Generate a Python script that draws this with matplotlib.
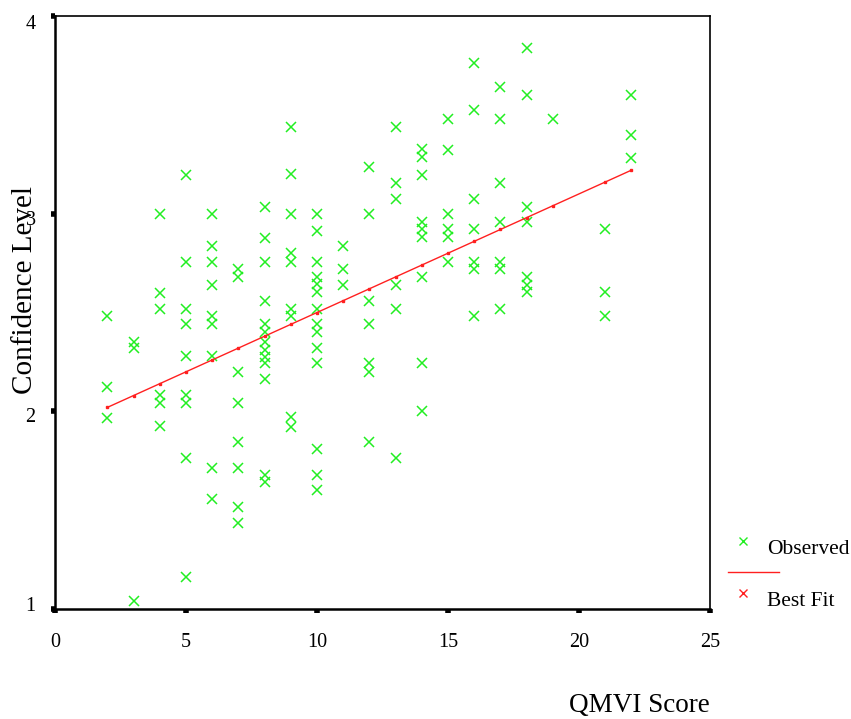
import numpy as np
import matplotlib.pyplot as plt
from matplotlib.lines import Line2D
from matplotlib.transforms import ScaledTranslation

plt.rcParams['font.family'] = ['Liberation Serif', 'DejaVu Serif']

# observed confidence level per QMVI score
obs = {
    2: [2.48, 2.125, 1.965],
    3: [2.353, 2.32, 1.04],
    4: [3.0, 2.597, 2.518, 2.083, 2.04, 1.926],
    5: [3.196, 2.757, 2.518, 2.44, 2.282, 2.083, 2.04, 1.766, 1.164],
    6: [3.0, 2.838, 2.757, 2.64, 2.484, 2.44, 2.282, 1.715, 1.557],
    7: [2.719, 2.681, 2.20, 2.04, 1.844, 1.715, 1.515, 1.437],
    8: [3.035, 2.877, 2.757, 2.558, 2.44, 2.403, 2.353, 2.31, 2.277, 2.243,
        2.164, 1.678, 1.64],
    9: [3.44, 3.2, 3.0, 2.80, 2.757, 2.52, 2.48, 1.973, 1.92],
    10: [3.0, 2.914, 2.757, 2.681, 2.644, 2.606, 2.518, 2.44, 2.403, 2.322,
         2.243, 1.81, 1.678, 1.60],
    11: [2.838, 2.719, 2.64],
    12: [3.234, 3.0, 2.558, 2.44, 2.243, 2.20, 1.844],
    13: [3.44, 3.154, 3.074, 2.64, 2.518, 1.766],
    14: [3.327, 3.288, 3.196, 2.96, 2.92, 2.88, 2.681, 2.243, 2.0],
    15: [3.48, 3.322, 3.0, 2.92, 2.88, 2.757],
    16: [3.76, 3.525, 3.074, 2.92, 2.757, 2.719, 2.484],
    17: [3.64, 3.48, 3.154, 2.957, 2.757, 2.719, 2.518],
    18: [3.84, 3.60, 3.035, 2.957, 2.681, 2.64, 2.602],
    19: [3.48],
    21: [2.92, 2.602, 2.484],
    22: [3.60, 3.40, 3.283],
}

# best fit line (linear)
fit_x = [2, 3, 4, 5, 6, 7, 8, 9, 10, 11, 12, 13, 14, 15, 16, 17, 18, 19, 21, 22]
fit_y = [2.02, 2.08, 2.14, 2.20, 2.26, 2.32, 2.38, 2.44, 2.50, 2.56, 2.62,
         2.68, 2.74, 2.80, 2.86, 2.92, 2.98, 3.04, 3.16, 3.22]

obs_x = [k for k, v in obs.items() for _ in v]
obs_y = [y for v in obs.values() for y in v]

green = '#22ee22'
red = '#ff2020'

fig = plt.figure(figsize=(8.51, 7.19), dpi=100)
ax = fig.add_axes([55/851, 1-609/719, 655/851, 593/719])

ax.plot(obs_x, obs_y, 'x', color=green, ms=7, mew=1.1, ls='none')
ax.plot(fit_x, fit_y, '-', color=red, lw=1.0)
ax.plot(fit_x, fit_y, 's', color=red, ms=2, ls='none')

ax.set_xlim(0, 25)
ax.set_ylim(1, 4)
ax.set_xticks([0, 5, 10, 15, 20, 25])
ax.set_yticks([1, 2, 3, 4])
for s in ax.spines.values():
    s.set_color('black')
    s.set_linewidth(1.2)
ax.spines['left'].set_linewidth(1.8)
ax.spines['bottom'].set_linewidth(1.8)
ax.tick_params(direction='out', length=3, width=4, labelsize=14.5)
ax.tick_params(axis='x', pad=14)
ax.tick_params(axis='y', pad=11)

# nudge y tick labels slightly
shifts = {1: 5, 2: -4, 3: -4, 4: -6}
for val, lab in zip(ax.get_yticks(), ax.get_yticklabels()):
    dy = shifts.get(int(val), 0) / 100
    lab.set_transform(lab.get_transform() + ScaledTranslation(0, dy, fig.dpi_scale_trans))

ax.set_xlabel('QMVI Score', fontsize=19.5)
ax.xaxis.set_label_coords(0.892, -0.142)
ax.set_ylabel('Confidence Level', fontsize=21)
ax.yaxis.set_label_coords(-0.026, 0.538)

# legend to the right of the plot area
def fx(px):
    return px / 851
def fy(py):
    return 1 - py / 719

fig.add_artist(Line2D([fx(743)], [fy(541)], marker='x', color=green, ms=6, mew=1, ls='none'))
fig.text(fx(767), fy(549), 'Observed', fontsize=15.5, va='center')
fig.add_artist(Line2D([fx(728), fx(779)], [fy(572), fy(572)], color=red, lw=1))
fig.add_artist(Line2D([fx(743)], [fy(593)], marker='x', color=red, ms=6, mew=1, ls='none'))
fig.text(fx(767), fy(602), 'Best Fit', fontsize=15.5, va='center')

fig.savefig('out.png', dpi=100)
